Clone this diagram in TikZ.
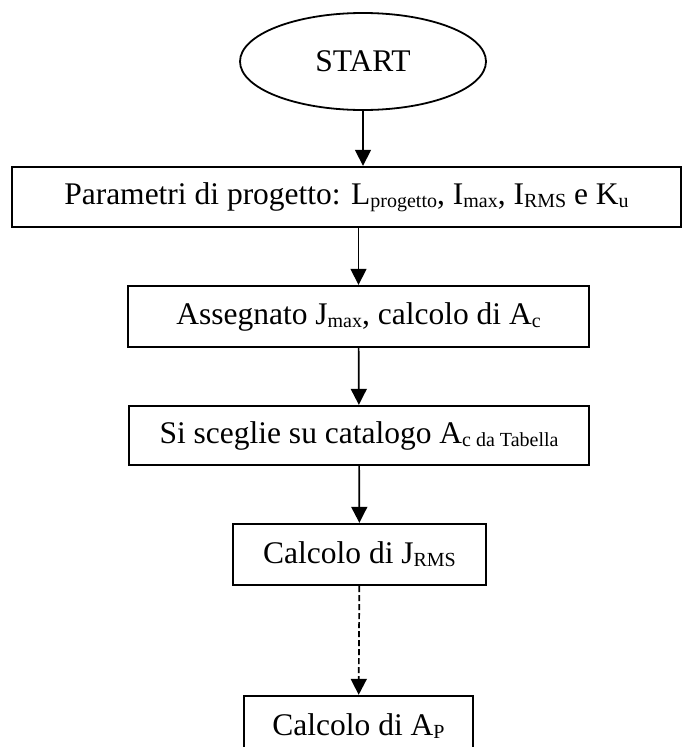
\documentclass[tikz,border=0pt]{standalone}
\usepackage{fontspec}
\setmainfont{Liberation Serif}
\usetikzlibrary{arrows.meta,shapes.geometric}
\newcommand{\pedice}[1]{\raisebox{-0.1em}{\fontsize{20}{24}\selectfont #1}}

\begin{document}
\begin{tikzpicture}[x=1pt, y=-1pt, every node/.style={font=\fontsize{31.5}{37}\selectfont},
      box/.style={draw, rectangle, line width=2.4pt, inner sep=0pt},
      term/.style={draw, ellipse, line width=1.8pt, inner sep=0pt, minimum width=246pt, minimum height=97pt},
      arr/.style={-{Triangle[length=16pt, width=16pt]}, line width=1.7pt}]
    \clip (0,0) rectangle (684,747);
    \node[term] (start) at (363,61.5) {START};
    \node[box, minimum width=669pt, minimum height=60pt] (param) at (346.5,197) {Parametri di progetto: L\pedice{progetto}, I\pedice{max}, I\pedice{RMS} e K\pedice{u}};
    \node[box, minimum width=461pt, minimum height=61pt] (jmax) at (358.5,316.5) {Assegnato J\pedice{max}, calcolo di A\pedice{c}};
    \node[box, minimum width=460pt, minimum height=59pt] (catal) at (359,435.5) {Si sceglie su catalogo A\pedice{c da Tabella}};
    \node[box, minimum width=253pt, minimum height=61pt] (jrms) at (359.5,554.5) {Calcolo di J\pedice{RMS}};
    \node[box, minimum width=229pt, minimum height=60pt] (ap) at (358.5,726) {Calcolo di A\pedice{P}};
    \draw[arr] (start) -- (start |- param.north);
    \draw[arr] (jmax.north |- param.south) -- (jmax.north);
    \draw[arr] (jmax) -- (catal);
    \draw[arr] (catal) -- (jrms);
    \draw[arr, dash pattern=on 6pt off 3pt] (jrms) -- (ap);
  \end{tikzpicture}
\end{document}
